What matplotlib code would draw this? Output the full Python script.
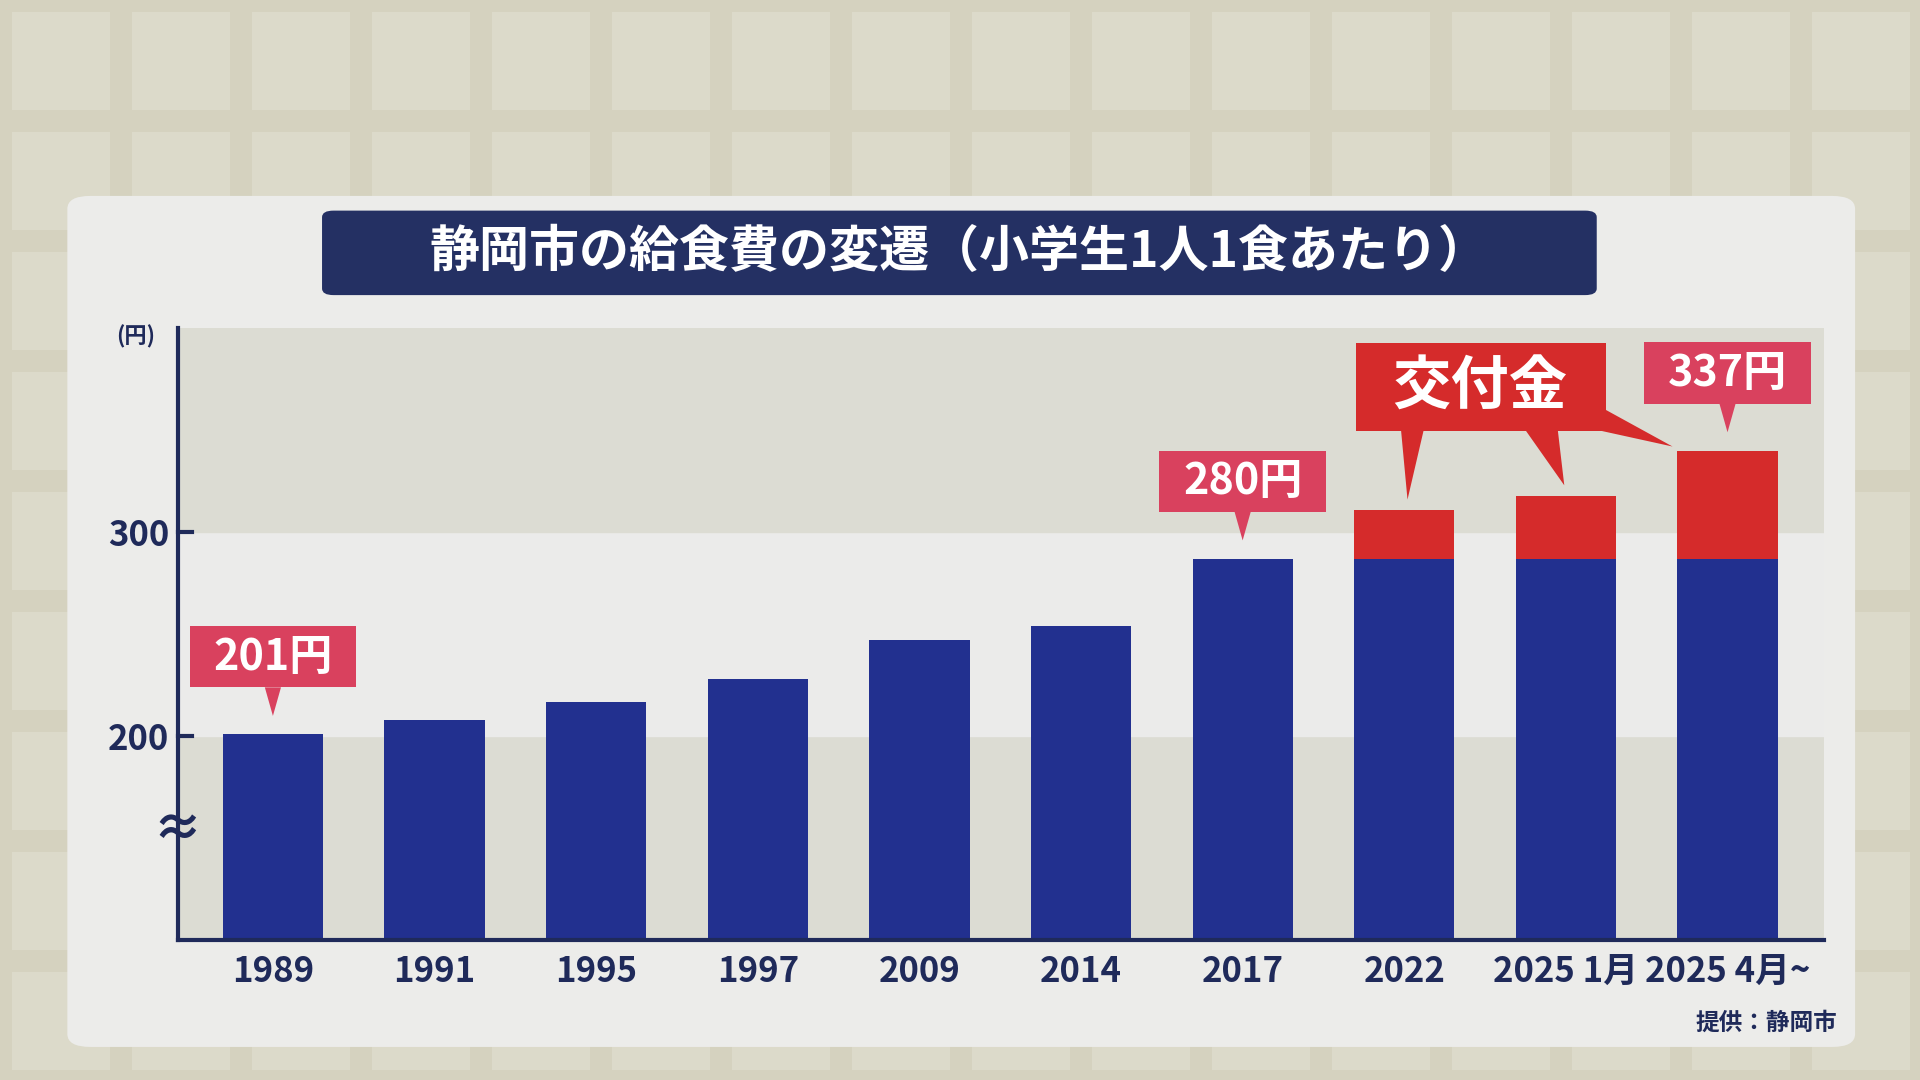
import matplotlib.pyplot as plt
from matplotlib.patches import Rectangle, FancyBboxPatch, Polygon

plt.rcParams['font.family'] = ['Noto Sans CJK JP', 'DejaVu Sans']

years = ['1989', '1991', '1995', '1997', '2009', '2014', '2017', '2022', '2025 1月', '2025 4月~']
base = [201, 208, 217, 228, 247, 254, 287, 287, 287, 287]
extra = [0, 0, 0, 0, 0, 0, 0, 24, 31, 53]
yticks = [200, 300]

navy = '#22308f'
dark = '#1f2a5a'
pink = '#d9415e'
red = '#d52b2b'

W, H = 1568, 882  # reference pixel space
fig = plt.figure(figsize=(19.2, 10.8), dpi=100)
fig.patch.set_facecolor('#d5d2bf')

def px(x0, y0, w, h):
    return (x0 / W, 1 - (y0 + h) / H, w / W, h / H)

# tiled background
for i in range(17):
    for j in range(10):
        x, y, w, h = px(10 + i * 98, 10 + j * 98, 80, 80)
        fig.patches.append(Rectangle((x, y), w, h, transform=fig.transFigure,
                                     fc='#dcdaca', ec='none', zorder=0))

# panel
x, y, w, h = px(55, 160, 1460, 695)
fig.patches.append(FancyBboxPatch((x, y), w, h, boxstyle='round,pad=0,rounding_size=0.012',
                                  transform=fig.transFigure, fc='#ececea', ec='none', zorder=1))
# title box
x, y, w, h = px(263, 172, 1041, 69)
fig.patches.append(FancyBboxPatch((x, y), w, h, boxstyle='round,pad=0,rounding_size=0.006',
                                  transform=fig.transFigure, fc='#243063', ec='none', zorder=2))
fig.text(x + w / 2, y + h / 2, '静岡市の給食費の変遷（小学生1人1食あたり）', color='white',
         fontsize=36, fontweight='bold', ha='center', va='center', zorder=3)

ax = fig.add_axes(px(145, 268, 1345, 500))
ax.set_facecolor('none')
ax.set_zorder(5)
ax.set_xlim(-0.59, 9.6)
ax.set_ylim(100, 400)

# background bands
ax.axhspan(100, 200, color='#dcdcd3', zorder=0)
ax.axhspan(200, 300, color='#ebebea', zorder=0)
ax.axhspan(300, 400, color='#dcdcd3', zorder=0)

xs = list(range(len(years)))
ax.bar(xs, [b - 100 for b in base], bottom=100, width=0.62, color=navy, zorder=2)
ax.bar(xs, extra, bottom=base, width=0.62, color=red, zorder=2)

ax.set_xticks(xs)
ax.set_xticklabels(years, fontsize=25, color=dark, fontweight='bold')
ax.set_yticks(yticks)
ax.set_yticklabels([str(t) for t in yticks], fontsize=25, color=dark, fontweight='bold')
ax.tick_params(axis='both', length=0, pad=10)
ax.tick_params(axis='y', pad=6)
for s in ['top', 'right']:
    ax.spines[s].set_visible(False)
for s in ['left', 'bottom']:
    ax.spines[s].set_color(dark)
    ax.spines[s].set_linewidth(3)
ax.plot([-0.59, -0.5], [300, 300], color=dark, lw=3, clip_on=False)
ax.plot([-0.59, -0.5], [200, 200], color=dark, lw=3, clip_on=False)
ax.text(-0.59, 154, '≈', fontsize=36, color=dark, ha='center', va='center', fontweight='bold')
ax.text(-0.85, 396, '(円)', fontsize=16, color=dark, ha='center', va='center', fontweight='bold')

def callout(i, label, cy, tip):
    ax.add_patch(Rectangle((xs[i] - 0.515, cy - 15), 1.03, 30, fc=pink, ec='none', zorder=5))
    ax.text(xs[i], cy, label, fontsize=31, color='white', fontweight='bold', ha='center',
            va='center', zorder=6)
    ax.add_patch(Polygon([(xs[i] - 0.05, cy - 15), (xs[i] + 0.05, cy - 15), (xs[i], tip)],
                         fc=pink, ec='none', zorder=5))

callout(0, '201円', 239, base[0] + 9)
callout(6, '280円', 325, base[6] + 9)
callout(9, '337円', 378, base[9] + extra[9] + 9)

# 交付金 callout
ax.add_patch(Rectangle((6.70, 349.5), 1.55, 43.3, fc=red, ec='none', zorder=5))
ax.text(7.47, 371, '交付金', fontsize=42, color='white', fontweight='bold', ha='center',
        va='center', zorder=6)
t7 = base[7] + extra[7] + 5
t8 = base[8] + extra[8] + 5
t9 = base[9] + extra[9] + 2
ax.add_patch(Polygon([(6.98, 350), (7.12, 350), (7.02, t7)], fc=red, ec='none', zorder=5))
ax.add_patch(Polygon([(7.75, 350), (7.95, 350), (7.99, t8)], fc=red, ec='none', zorder=5))
ax.add_patch(Polygon([(8.2, 350), (8.2, 362), (8.66, t9)], fc=red, ec='none', zorder=5))

fig.text(1500 / W, 1 - 835 / H, '提供：静岡市', fontsize=17, color=dark, fontweight='bold',
         ha='right', va='center', zorder=3)

fig.savefig('out.png', dpi=100)
